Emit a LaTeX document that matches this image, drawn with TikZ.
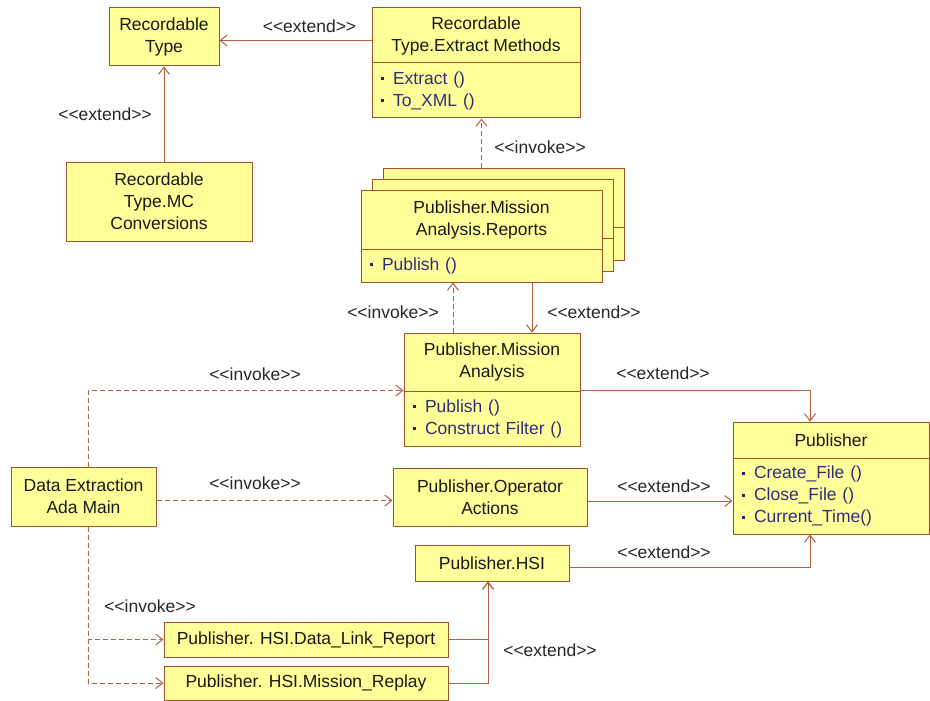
\documentclass[tikz,border=0pt]{standalone}
\usepackage{fontspec}
\setmainfont{Liberation Sans}
\usetikzlibrary{arrows.meta}

\definecolor{yel}{RGB}{255,255,153}
\definecolor{brd}{RGB}{160,82,45}
\definecolor{lnc}{RGB}{176,96,64}
\definecolor{opc}{RGB}{46,46,122}
\newcommand{\bul}{{\color{opc!80!black}\rule[0.22em]{3pt}{3pt}}\hspace{9pt}}
\newcommand{\stereo}[1]{{<}{<}#1{>}{>}}

\begin{document}
\begin{tikzpicture}[x=1pt,y=-1pt,>={Straight Barb[length=7pt,width=11pt]},
    font=\fontsize{17.5}{22}\selectfont]
    \tikzstyle{cls}=[draw=brd,fill=yel,line width=1pt,inner sep=0pt,align=center,text=black!90]
    \tikzstyle{ops}=[cls,align=left,text=opc,inner xsep=9pt]
    \tikzstyle{ext}=[->,draw=lnc,line width=1pt]
    \tikzstyle{inv}=[ext,dash pattern=on 5pt off 3pt]
    \tikzstyle{lbl}=[text=black!85,inner sep=0pt]
    \useasboundingbox (0,0) rectangle (930,701);

    % classes
    \node[cls,minimum width=110,minimum height=58] (rt) at (164,37) {Recordable\\Type};
    \node[cls,minimum width=208,minimum height=55] (rtemh) at (476,35.5) {Recordable\\Type.Extract Methods};
    \node[ops,minimum width=208,minimum height=55,text width=190] (rtemo) at (476,90.5) {\bul Extract ()\\\bul To\_XML ()};
    \node[cls,minimum width=186,minimum height=79] (rtmc) at (159,201.5) {Recordable\\Type.MC\\Conversions};

    % stacked reports
    \foreach \d/\n in {22/rep3,11/rep2}{
      \node[cls,minimum width=241,minimum height=59] (\n h) at (481.5+\d,219.5-\d) {};
      \node[cls,minimum width=241,minimum height=33] (\n o) at (481.5+\d,265.5-\d) {};
    }
    \node[cls,minimum width=241,minimum height=59] (rep1h) at (481.5,219.5) {Publisher.Mission\\Analysis.Reports};
    \node[ops,minimum width=241,minimum height=33,text width=223] (rep1o) at (481.5,265.5) {\bul Publish ()};

    \node[cls,minimum width=176,minimum height=58] (pmah) at (492,362) {Publisher.Mission\\Analysis};
    \node[ops,minimum width=176,minimum height=55,text width=158] (pmao) at (492,418.5) {\bul Publish ()\\\bul Construct Filter ()};

    \node[cls,minimum width=196,minimum height=36] (pubh) at (831,440) {Publisher};
    \node[ops,minimum width=196,minimum height=76,text width=178] (pubo) at (831,496) {\bul Create\_File ()\\\bul Close\_File ()\\\bul Current\_Time()};

    \node[cls,minimum width=145,minimum height=59] (deam) at (83.5,496.5) {Data Extraction\\Ada Main};
    \node[cls,minimum width=194,minimum height=58] (poa) at (490,497) {Publisher.Operator\\Actions};
    \node[cls,minimum width=154,minimum height=36] (hsi) at (492,563) {Publisher.HSI};
    \node[cls,minimum width=284,minimum height=35] (dlr) at (306,639.5) {Publisher. HSI.Data\_Link\_Report};
    \node[cls,minimum width=284,minimum height=34] (mr) at (306,683) {Publisher. HSI.Mission\_Replay};

    % connectors
    \draw[ext] ([yshift=-5pt]rtemh.west) -- ([yshift=-5pt]rtemh.west -| rt.east);
    \draw[ext] (rt.south |- rtmc.north) -- (rt.south);
    \draw[inv] (rep1h.center |- rep3h.north) -- (rep1h.center |- rtemo.south);
    \draw[inv] ([xshift=-39pt]pmah.north) -- ([xshift=-39pt]pmah.north |- rep1o.south);
    \draw[ext] ([xshift=40pt]pmah.north |- rep1o.south) -- ([xshift=40pt]pmah.north);
    \draw[ext] (pmao.north east) -| ([xshift=-21pt]pubh.north);
    \draw[inv] ([xshift=4.5pt]deam.north) |- (pmao.north west);
    \draw[inv] ([yshift=-4pt]deam.east) -- ([yshift=-4pt]deam.east -| poa.west);
    \draw[ext] ([yshift=-4pt]poa.east) -- ([yshift=-4pt]poa.east -| pubo.west);
    \draw[ext] ([yshift=-4pt]hsi.east) -| ([xshift=-21pt]pubo.south);
    \draw[inv] ([xshift=4.5pt]deam.south) |- (dlr.west);
    \draw[inv] ([xshift=4.5pt]deam.south) |- (mr.west);
    \draw[ext] (dlr.east) -| ([xshift=-4pt]hsi.south);
    \draw[ext] (mr.east) -| ([xshift=-4pt]hsi.south);

    % stereotypes
    \node[lbl] (l1) at (309.5,26) {\stereo{extend}};
    \node[lbl] (l2) at (105,114) {\stereo{extend}};
    \node[lbl] (l3) at (540,147) {\stereo{invoke}};
    \node[lbl] (l4) at (393,312) {\stereo{invoke}};
    \node[lbl] (l5) at (594,312) {\stereo{extend}};
    \node[lbl] (l6) at (663,373) {\stereo{extend}};
    \node[lbl] (l7) at (255,374) {\stereo{invoke}};
    \node[lbl] (l8) at (255,483) {\stereo{invoke}};
    \node[lbl] (l9) at (664,486) {\stereo{extend}};
    \node[lbl] (l10) at (664,552) {\stereo{extend}};
    \node[lbl] (l11) at (150,606) {\stereo{invoke}};
    \node[lbl] (l12) at (550,650) {\stereo{extend}};
\end{tikzpicture}
\end{document}
